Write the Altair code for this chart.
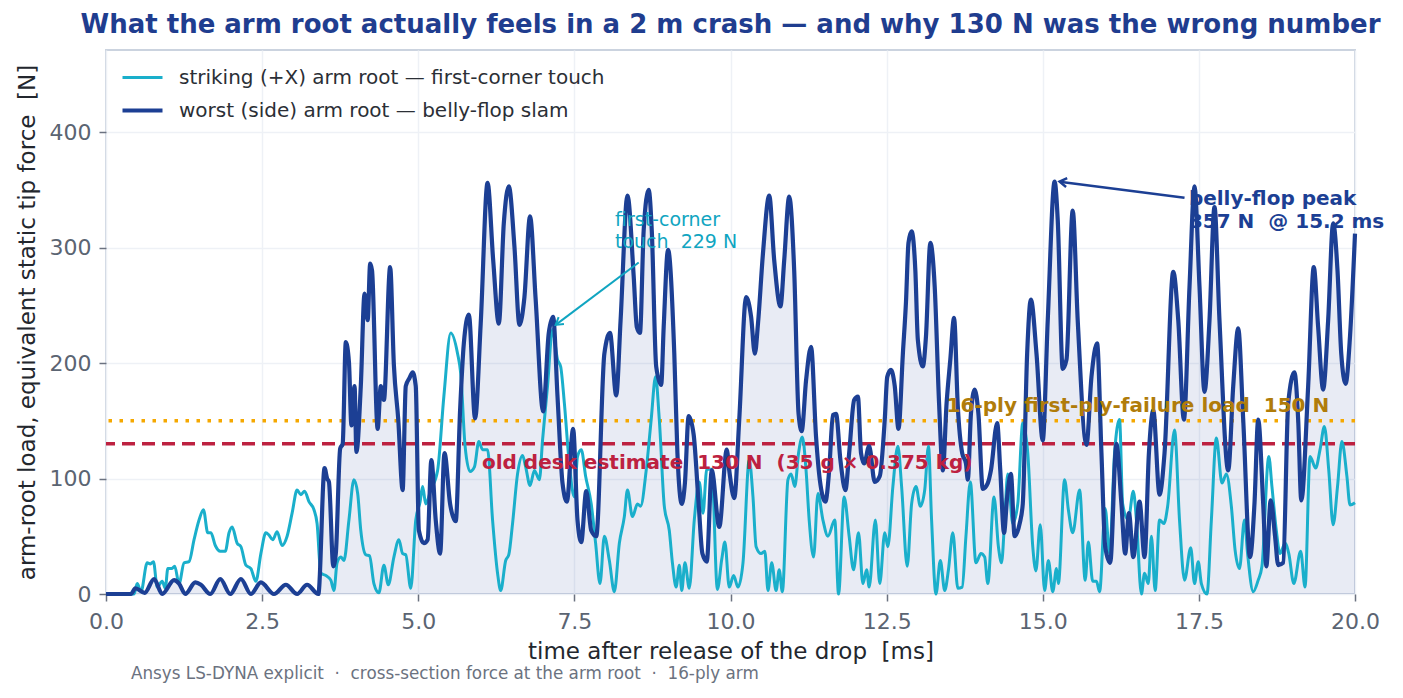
import altair as alt
import pandas as pd

# ---------------- data ----------------
SERIES = [
    "striking (+X) arm root \u2014 first-corner touch",
    "worst (side) arm root \u2014 belly-flop slam",
]

worst_t = [0.0, 0.40, 0.47, 0.62, 0.77, 0.90, 1.09, 1.17, 1.27, 1.43, 1.52, 1.67, 1.83, 1.99, 2.16, 2.32, 2.48,
           2.69, 2.88, 3.06, 3.22, 3.40, 3.50, 3.54, 3.57, 3.64, 3.68, 3.75, 3.79, 3.84, 3.89, 3.93, 3.98, 4.01,
           4.08, 4.14, 4.19, 4.23, 4.26, 4.35, 4.40, 4.45, 4.55, 4.61, 4.68, 4.75, 4.80, 4.86, 4.91, 4.96, 5.01,
           5.09, 5.15, 5.21, 5.28, 5.35, 5.42, 5.51, 5.60, 5.67, 5.73, 5.81, 5.91, 6.00, 6.11, 6.20, 6.29, 6.37,
           6.45, 6.54, 6.62, 6.70, 6.79, 6.88, 7.00, 7.09, 7.16, 7.23, 7.31, 7.38, 7.48, 7.55, 7.61, 7.69, 7.77,
           7.85, 7.98, 8.07, 8.17, 8.24, 8.35, 8.45, 8.50, 8.55, 8.61, 8.69, 8.74, 8.81, 8.89, 8.93, 9.00, 9.10,
           9.15, 9.22, 9.27, 9.33, 9.41, 9.49, 9.55, 9.62, 9.70, 9.82, 9.94, 9.98, 10.06, 10.14, 10.25, 10.33,
           10.39, 10.44, 10.52, 10.62, 10.70, 10.80, 10.86, 10.94, 11.02, 11.09, 11.14, 11.21, 11.29, 11.37,
           11.43, 11.52, 11.58, 11.64, 11.69, 11.76, 11.84, 11.90, 11.98, 12.04, 12.09, 12.14, 12.22, 12.31,
           12.39, 12.47, 12.51, 12.57, 12.63, 12.69, 12.76, 12.81, 12.85, 12.90, 12.96, 13.00, 13.08, 13.13,
           13.20, 13.27, 13.34, 13.40, 13.46, 13.52, 13.58, 13.64, 13.71, 13.77, 13.80, 13.85, 13.91, 13.97,
           14.04, 14.12, 14.17, 14.27, 14.32, 14.38, 14.43, 14.49, 14.55, 14.63, 14.68, 14.75, 14.81, 14.90,
           15.00, 15.08, 15.19, 15.24, 15.32, 15.38, 15.48, 15.56, 15.70, 15.78, 15.87, 15.94, 16.00, 16.08,
           16.18, 16.26, 16.32, 16.38, 16.45, 16.55, 16.63, 16.70, 16.77, 16.87, 16.95, 17.09, 17.17, 17.26,
           17.35, 17.43, 17.51, 17.59, 17.67, 17.75, 17.83, 17.97, 18.05, 18.13, 18.21, 18.32, 18.39, 18.45,
           18.53, 18.58, 18.65, 18.72, 18.77, 18.85, 18.93, 19.03, 19.09, 19.14, 19.25, 19.34, 19.41, 19.49,
           19.57, 19.65, 19.72, 19.78, 19.85, 19.92, 20.00]
worst_v = [0, 0, 5, 1, 13, 0, 12, 9, 0, 10, 8, 0, 13, 0, 13, 0, 10,
           0, 8, 0, 8, 0, 109, 100, 97, 24, 35, 126, 130, 218, 201, 146, 180, 123,
           180, 260, 237, 286, 280, 143, 180, 168, 283, 198, 151, 90, 180, 187, 192, 180, 55,
           44, 47, 116, 64, 35, 122, 78, 63, 159, 217, 242, 152, 234, 356, 289, 234, 321,
           353, 301, 233, 257, 327, 255, 158, 226, 240, 171, 96, 80, 143, 64, 45, 89, 55,
           50, 208, 226, 172, 237, 345, 275, 231, 226, 315, 350, 314, 197, 181, 231, 298, 208,
           122, 78, 96, 154, 138, 78, 35, 28, 107, 58, 125, 107, 83, 151, 257, 240,
           208, 234, 295, 345, 289, 249, 289, 344, 280, 156, 141, 185, 214, 136,
           99, 80, 107, 155, 156, 116, 90, 122, 168, 171, 122, 113, 128, 97,
           102, 151, 188, 194, 180, 143, 208, 253, 304, 314, 280, 220, 197, 223,
           304, 266, 165, 107, 165, 203, 239, 162, 122, 113, 99, 156, 177, 156,
           91, 96, 107, 148, 107, 53, 84, 104, 50, 61, 78, 208, 255, 208,
           133, 237, 357, 324, 195, 203, 332, 237, 129, 188, 217, 122, 41, 27,
           130, 78, 35, 70, 32, 80, 32, 122, 159, 86, 122, 279, 237, 151,
           266, 353, 266, 175, 237, 335, 237, 107, 180, 230, 151, 32, 78, 151,
           78, 24, 81, 50, 25, 27, 165, 192, 151, 81, 180, 283, 231, 177,
           237, 321, 280, 208, 182, 223, 312]

strike_t = [0.0, 0.45, 0.50, 0.56, 0.66, 0.71, 0.76, 0.82, 0.90, 0.95, 0.99, 1.05, 1.10, 1.17, 1.25, 1.33,
            1.41, 1.49, 1.56, 1.63, 1.68, 1.75, 1.83, 1.91, 1.97, 2.02, 2.10, 2.16, 2.24, 2.32, 2.40, 2.48,
            2.56, 2.61, 2.67, 2.74, 2.82, 2.90, 2.98, 3.06, 3.12, 3.18, 3.25, 3.33, 3.38, 3.44, 3.52, 3.60,
            3.65, 3.70, 3.76, 3.81, 3.89, 3.97, 4.03, 4.08, 4.16, 4.22, 4.29, 4.37, 4.45, 4.52, 4.61, 4.69,
            4.75, 4.80, 4.88, 4.96, 5.03, 5.07, 5.12, 5.20, 5.31, 5.41, 5.52, 5.63, 5.68, 5.75, 5.83, 5.90,
            5.97, 6.03, 6.11, 6.19, 6.27, 6.32, 6.40, 6.45, 6.51, 6.59, 6.67, 6.72, 6.79, 6.86, 6.94, 6.99,
            7.07, 7.15, 7.23, 7.28, 7.34, 7.42, 7.50, 7.55, 7.61, 7.68, 7.77, 7.84, 7.91, 7.98, 8.06, 8.14,
            8.22, 8.30, 8.35, 8.43, 8.51, 8.56, 8.65, 8.73, 8.80, 8.86, 8.94, 9.02, 9.07, 9.13, 9.18, 9.22,
            9.27, 9.34, 9.42, 9.50, 9.56, 9.62, 9.70, 9.79, 9.86, 9.91, 9.98, 10.05, 10.12, 10.20, 10.30,
            10.36, 10.41, 10.49, 10.55, 10.60, 10.66, 10.73, 10.78, 10.83, 10.92, 10.97, 11.03, 11.09, 11.15,
            11.21, 11.26, 11.33, 11.40, 11.48, 11.56, 11.67, 11.73, 11.82, 11.90, 11.97, 12.05, 12.12, 12.18,
            12.22, 12.32, 12.39, 12.47, 12.52, 12.60, 12.68, 12.74, 12.83, 12.90, 12.97, 13.04, 13.11, 13.17,
            13.22, 13.29, 13.36, 13.43, 13.49, 13.56, 13.64, 13.71, 13.77, 13.84, 13.93, 14.01, 14.07, 14.12,
            14.22, 14.29, 14.34, 14.39, 14.44, 14.52, 14.60, 14.68, 14.76, 14.84, 14.89, 14.96, 15.03, 15.09,
            15.16, 15.22, 15.25, 15.35, 15.41, 15.48, 15.59, 15.68, 15.73, 15.80, 15.86, 15.91, 16.00, 16.07,
            16.15, 16.23, 16.28, 16.37, 16.45, 16.50, 16.58, 16.63, 16.69, 16.74, 16.80, 16.87, 16.94, 17.00,
            17.11, 17.19, 17.27, 17.37, 17.43, 17.49, 17.54, 17.63, 17.70, 17.78, 17.87, 17.94, 18.02, 18.08,
            18.15, 18.23, 18.28, 18.37, 18.45, 18.51, 18.62, 18.67, 18.74, 18.80, 18.88, 18.94, 19.02, 19.13,
            19.20, 19.28, 19.37, 19.44, 19.51, 19.58, 19.65, 19.72, 19.79, 19.87, 19.92, 20.00]
strike_v = [0, 0, 9, 2, 27, 26, 28, 6, 11, 5, 22, 22, 24, 9, 27, 28,
            47, 64, 73, 53, 53, 42, 37, 37, 53, 58, 44, 41, 25, 22, 11, 35,
            53, 51, 47, 54, 42, 50, 70, 90, 86, 89, 80, 73, 61, 18, 16, 12,
            3, 27, 32, 29, 64, 99, 87, 55, 34, 33, 9, 1, 25, 8, 32, 47,
            35, 34, 5, 64, 80, 93, 78, 90, 107, 171, 226, 208, 191, 128, 106, 110,
            132, 125, 125, 64, 18, 3, 29, 34, 61, 104, 120, 110, 94, 107, 99, 133,
            180, 229, 203, 197, 165, 112, 84, 119, 125, 102, 78, 44, 9, 50, 29, 2,
            44, 67, 90, 67, 78, 76, 107, 151, 188, 151, 76, 55, 27, 6, 25, 3,
            27, 5, 64, 97, 70, 108, 108, 4, 30, 45, 6, 16, 6, 27, 116,
            84, 41, 35, 37, 3, 27, 3, 21, 2, 99, 104, 93, 122, 136,
            107, 64, 32, 87, 64, 50, 64, 0, 84, 50, 21, 53, 9, 21,
            6, 64, 9, 53, 41, 93, 128, 93, 24, 78, 93, 76, 90, 128,
            64, 0, 29, 3, 21, 53, 5, 6, 50, 97, 27, 35, 32, 9,
            84, 41, 27, 64, 104, 61, 78, 148, 122, 41, 20, 60, 3, 29,
            2, 22, 9, 99, 73, 53, 90, 12, 45, 11, 11, 2, 74, 35,
            122, 151, 78, 64, 89, 64, 0, 18, 9, 50, 3, 64, 61, 76,
            142, 64, 12, 40, 9, 28, 9, 0, 64, 135, 96, 104, 76, 38,
            22, 64, 35, 2, 12, 24, 119, 93, 55, 35, 44, 35, 9, 37,
            6, 119, 109, 125, 145, 107, 60, 93, 132, 102, 77, 79]

threshold_names = ["old desk estimate", "16-ply first-ply-failure load"]
threshold_values = [130, 150]

x_ticks = [0, 2.5, 5, 7.5, 10, 12.5, 15, 17.5, 20]
y_ticks = [0, 100, 200, 300, 400]

TITLE = "What the arm root actually feels in a 2 m crash \u2014 and why 130 N was the wrong number"
X_TITLE = "time after release of the drop \u00a0[ms]"
Y_TITLE = "arm-root load, equivalent static tip force \u00a0[N]"
FOOTNOTE = "Ansys LS-DYNA explicit \u00a0\u00b7\u00a0 cross-section force at the arm root \u00a0\u00b7\u00a0 16-ply arm"

# ---------------- tables ----------------
df_worst = pd.DataFrame({"t": worst_t, "v": worst_v, "series": SERIES[1]})
df_strike = pd.DataFrame({"t": strike_t, "v": strike_v, "series": SERIES[0]})

CYAN = "#1aafcb"
NAVY = "#1c3f94"
ORANGE = "#f5a800"
CRIMSON = "#bd2140"
GOLD = "#b07c0a"
FONT = "DejaVu Sans"

W, H = 1249, 544
xs = alt.Scale(domain=[0, 20], nice=False, zero=False)
ys = alt.Scale(domain=[0, 471], nice=False)

def legend():
    return alt.Legend(title=None, orient="none", legendX=14, legendY=6,
                      symbolType="stroke", symbolSize=1600, labelFontSize=20,
                      labelColor="#2b2f36", labelFont=FONT, rowPadding=-7,
                      labelOffset=14, padding=0, labelLimit=0)

color = alt.Color("series:N", scale=alt.Scale(domain=SERIES, range=[CYAN, NAVY]), legend=legend())
swidth = alt.StrokeWidth("series:N", scale=alt.Scale(domain=SERIES, range=[3, 4.2]), legend=legend())

xenc = alt.X("t:Q", scale=xs, title=X_TITLE,
             axis=alt.Axis(values=x_ticks, format=".1f", labelFlush=False, labelOverlap=False))
yenc = alt.Y("v:Q", scale=ys, title=Y_TITLE, axis=alt.Axis(values=y_ticks, labelOverlap=False))

area = alt.Chart(df_worst).mark_area(color=NAVY, opacity=0.1, interpolate="monotone").encode(
    x=xenc, y=yenc)

line_strike = alt.Chart(df_strike).mark_line(interpolate="monotone").encode(
    x="t:Q", y="v:Q", color=color, strokeWidth=swidth)
line_worst = alt.Chart(df_worst).mark_line(interpolate="monotone").encode(
    x="t:Q", y="v:Q", color=color, strokeWidth=swidth)

df_thr = pd.DataFrame({"name": threshold_names, "v": threshold_values})
rule_old = alt.Chart(df_thr[df_thr.v == 130]).mark_rule(
    color=CRIMSON, strokeWidth=3.5, strokeDash=[13, 7]).encode(y="v:Q")
rule_ply = alt.Chart(df_thr[df_thr.v == 150]).mark_rule(
    color=ORANGE, strokeWidth=3.5, strokeDash=[3.5, 7.5]).encode(y="v:Q")

def label(df, color, size, weight, align="left"):
    return alt.Chart(df).mark_text(align=align, baseline="alphabetic", font=FONT, fontSize=size,
                                   fontWeight=weight, color=color).encode(
        x="t:Q", y="v:Q", text="txt:N")

lab_old = label(pd.DataFrame({"t": [6.02], "v": [108.3],
                              "txt": ["old desk estimate \u00a0130 N \u00a0(35 g \u00d7 0.375 kg)"]}),
                CRIMSON, 20, "bold")
lab_ply = label(pd.DataFrame({"t": [13.46], "v": [157.2],
                              "txt": ["16-ply first-ply-failure load \u00a0150 N"]}),
                GOLD, 20, "bold")
lab_corner = label(pd.DataFrame({"t": [8.15, 8.15], "v": [318.6, 299.3],
                                 "txt": ["first-corner", "touch \u00a0229 N"]}),
                   "#10a5c1", 19, "normal")
lab_belly = label(pd.DataFrame({"t": [17.34, 17.34], "v": [336.5, 316.5],
                                "txt": ["belly-flop peak", "357 N \u00a0@ 15.2 ms"]}),
                  NAVY, 20, "bold")

ARROW = "M-1,-0.62L0,0L-1,0.62"
arr_c = pd.DataFrame({"t": [8.53], "v": [287], "t2": [7.2], "v2": [233]})
arr_b = pd.DataFrame({"t": [17.27], "v": [343], "t2": [15.27], "v2": [357]})
arrow_c = alt.Chart(arr_c).mark_rule(color="#10a5c1", strokeWidth=2).encode(
    x="t:Q", y="v:Q", x2="t2:Q", y2="v2:Q")
head_c = alt.Chart(arr_c).mark_point(shape=ARROW, filled=False, color="#10a5c1", strokeWidth=2,
                                     size=200, angle=142.8, opacity=1).encode(x="t2:Q", y="v2:Q")
arrow_b = alt.Chart(arr_b).mark_rule(color=NAVY, strokeWidth=2.5).encode(
    x="t:Q", y="v:Q", x2="t2:Q", y2="v2:Q")
head_b = alt.Chart(arr_b).mark_point(shape=ARROW, filled=False, color=NAVY, strokeWidth=2.5,
                                     size=200, angle=187.3, opacity=1).encode(x="t2:Q", y="v2:Q")

foot = alt.Chart(pd.DataFrame({"txt": [FOOTNOTE]})).mark_text(
    align="left", baseline="middle", font=FONT, fontSize=16.8, color="#6b7280").encode(
    x=alt.value(25), y=alt.value(624), text="txt:N")

chart = alt.layer(
    area, rule_ply, rule_old, line_strike, line_worst,
    lab_old, lab_ply, lab_corner, lab_belly,
    arrow_c, head_c, arrow_b, head_b, foot
).resolve_scale(color="shared", strokeWidth="shared").properties(
    width=W, height=H,
    title=alt.TitleParams(TITLE, font=FONT, fontSize=26, fontWeight="bold", color="#1f3d8f",
                          anchor="middle", offset=12),
    autosize=alt.AutoSizeParams(type="none"),
    padding={"left": 98, "top": 42, "right": 40, "bottom": 96},
).configure_view(
    stroke="#cbd3df", strokeWidth=2
).configure_axis(
    labelFont=FONT, titleFont=FONT, labelFontSize=22, titleFontSize=23,
    labelColor="#5b6472", titleColor="#23272e", titleFontWeight="normal",
    gridColor="#eef1f6", gridWidth=1.5, domain=False,
    tickColor="#6b7280", tickSize=7, tickWidth=1.5,
).configure_axisX(
    labelPadding=10, titlePadding=8
).configure_axisY(
    labelPadding=8, titlePadding=10
)

chart.save("out.html", embed_options={"renderer": "svg", "actions": False})
